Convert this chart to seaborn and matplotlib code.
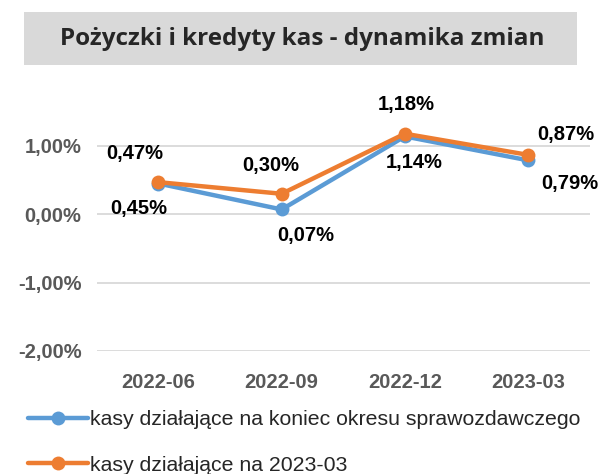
import pandas as pd
import matplotlib.pyplot as plt
import seaborn as sns
from matplotlib.patches import Rectangle
from matplotlib.ticker import FuncFormatter

# data
periods = ['2022-06', '2022-09', '2022-12', '2023-03']
series_names = ['kasy działające na koniec okresu sprawozdawczego',
                'kasy działające na 2023-03']
koniec_okresu = [0.45, 0.07, 1.14, 0.79]
na_2023_03 = [0.47, 0.30, 1.18, 0.87]
y_ticks = [-2.0, -1.0, 0.0, 1.0]

df = pd.DataFrame({
    'okres': periods * 2,
    'wartosc': koniec_okresu + na_2023_03,
    'seria': [series_names[0]] * 4 + [series_names[1]] * 4,
})

sns.set_style("white")
plt.rcParams['font.family'] = ['Liberation Sans', 'DejaVu Sans']

colors = {series_names[0]: '#5B9BD5', series_names[1]: '#ED7D31'}

fig = plt.figure(figsize=(6.13, 4.74), dpi=100)
ax = fig.add_axes([0.158, 0.26, 0.804, 0.504])

sns.lineplot(data=df, x='okres', y='wartosc', hue='seria', palette=colors,
             marker='o', markersize=10, markeredgewidth=0, linewidth=3.2,
             sort=False, ax=ax)

ax.set_xlim(-0.5, 3.5)
ax.set_ylim(-2.0, 1.5)
ax.set_yticks(y_ticks)
ax.yaxis.set_major_formatter(FuncFormatter(lambda v, p: f'{v:.2f}%'.replace('.', ',')))
ax.grid(axis='y', color='#d9d9d9', linewidth=1.3)
ax.grid(axis='x', visible=False)
for s in ax.spines.values():
    s.set_visible(False)
ax.tick_params(axis='both', length=0, labelsize=14.5, labelcolor='#595959')
ax.tick_params(axis='y', pad=11)
ax.tick_params(axis='x', pad=16)
for lbl in ax.get_xticklabels() + ax.get_yticklabels():
    lbl.set_fontweight('bold')
ax.set_xlabel('')
ax.set_ylabel('')

# data labels (offsets in points)
blue_off = [(-14, -18), (17, -19), (6.5, -19), (30, -17)]
orange_off = [(-17, 21), (-8, 20), (1, 21), (27, 15)]
for i, (v, off) in enumerate(zip(koniec_okresu, blue_off)):
    ax.annotate(f'{v:.2f}%'.replace('.', ','), (i, v), xytext=off,
                textcoords='offset points', ha='center', va='center',
                fontsize=14.5, fontweight='bold', color='black')
for i, (v, off) in enumerate(zip(na_2023_03, orange_off)):
    ax.annotate(f'{v:.2f}%'.replace('.', ','), (i, v), xytext=off,
                textcoords='offset points', ha='center', va='center',
                fontsize=14.5, fontweight='bold', color='black')

# title box
fig.patches.append(Rectangle((24 / 613, 1 - 65 / 474), 553 / 613, 53 / 474,
                             transform=fig.transFigure, facecolor='#d9d9d9',
                             edgecolor='none', zorder=0))
fig.text(302 / 613, 1 - 39 / 474, 'Pożyczki i kredyty kas - dynamika zmian',
         ha='center', va='center', fontsize=17.5, fontweight='bold',
         family=['Open Sans', 'DejaVu Sans'])

ax.legend(loc='upper left', bbox_to_anchor=(28 / 613, 1 - 410 / 474),
          bbox_transform=fig.transFigure, frameon=False, fontsize=15.3,
          handlelength=2.8, handletextpad=0.1, labelspacing=1.25,
          borderaxespad=0, borderpad=0)

fig.savefig('out.png', dpi=100)
